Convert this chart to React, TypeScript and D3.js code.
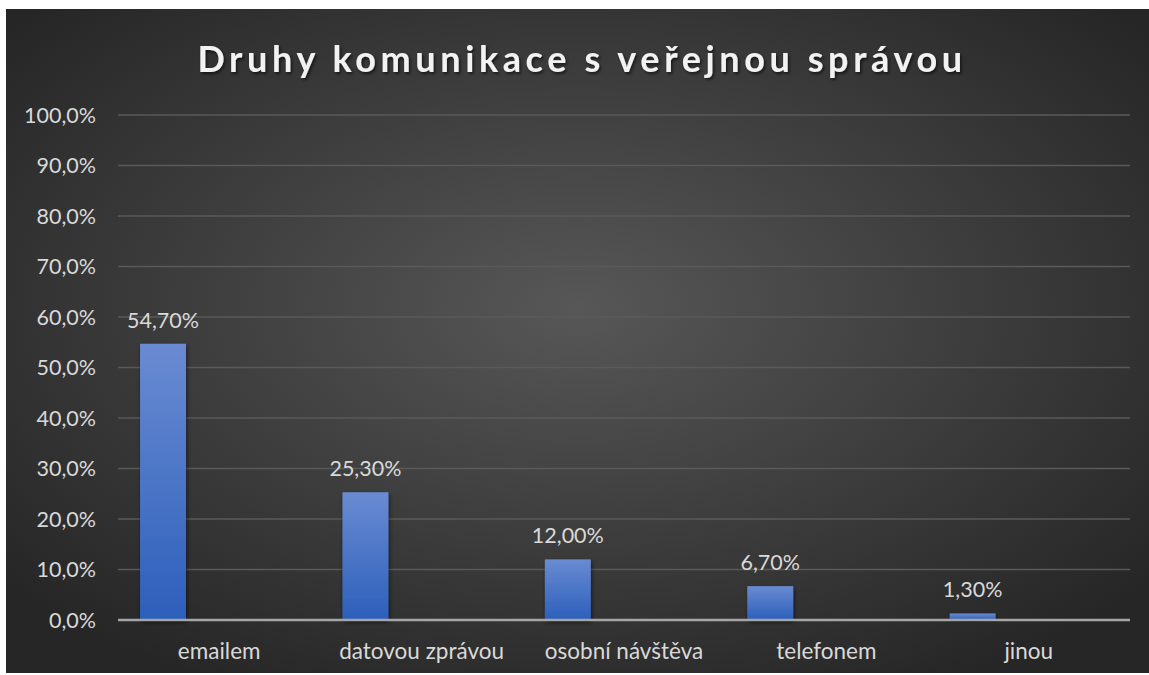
import React, { useRef, useEffect } from "react";
import * as d3 from "d3";

const title = "Druhy komunikace s veřejnou správou";
const categories = ["emailem", "datovou zprávou", "osobní návštěva", "telefonem", "jinou"];
const values = [54.7, 25.3, 12.0, 6.7, 1.3];
const labels = ["54,70%", "25,30%", "12,00%", "6,70%", "1,30%"];
const yTicks = [0, 10, 20, 30, 40, 50, 60, 70, 80, 90, 100];

const W = 1149, H = 675;
const FONT = "Lato, 'Open Sans', sans-serif";

function App() {
    const svgRef = useRef<SVGSVGElement>(null);
    useEffect(() => {
        const svg = d3.select(svgRef.current);
        svg.selectAll("*").remove();

        const defs = svg.append("defs");
        const bg = defs.append("radialGradient").attr("id", "bg")
            .attr("cx", "50%").attr("cy", "45%").attr("r", "65%");
        bg.append("stop").attr("offset", "0%").attr("stop-color", "#575757");
        bg.append("stop").attr("offset", "100%").attr("stop-color", "#262626");
        const bar = defs.append("linearGradient").attr("id", "bar")
            .attr("x1", 0).attr("y1", 0).attr("x2", 0).attr("y2", 1);
        bar.append("stop").attr("offset", "0%").attr("stop-color", "#6a8bd2");
        bar.append("stop").attr("offset", "100%").attr("stop-color", "#2c5fbb");
        const sh = defs.append("filter").attr("id", "sh").attr("x", "-20%").attr("y", "-20%").attr("width", "140%").attr("height", "140%");
        sh.append("feDropShadow").attr("dx", 1).attr("dy", 2).attr("stdDeviation", 2)
            .attr("flood-color", "#000").attr("flood-opacity", 0.55);

        svg.append("rect").attr("x", 6).attr("y", 9).attr("width", W - 6).attr("height", 664)
            .attr("fill", "url(#bg)");

        const margin = { left: 118, right: 1130, top: 115, bottom: 620 };
        const x = d3.scaleBand().domain(categories).range([margin.left, margin.right]).padding(0);
        const y = d3.scaleLinear().domain([0, 100]).range([margin.bottom, margin.top]);

        // gridlines
        svg.append("g").selectAll("line").data(yTicks.filter(t => t > 0)).enter().append("line")
            .attr("x1", margin.left).attr("x2", margin.right)
            .attr("y1", d => y(d)).attr("y2", d => y(d))
            .attr("stroke", "#5a5a5a").attr("stroke-width", 1.5);

        // y axis labels
        svg.append("g").selectAll("text").data(yTicks).enter().append("text")
            .attr("x", 96).attr("y", d => y(d)).attr("dy", "0.36em")
            .attr("text-anchor", "end").attr("fill", "#d9d9d9")
            .style("font-family", FONT).style("font-size", "21.5px")
            .text(d => d.toFixed(1).replace(".", ",") + "%");

        const bw = x.bandwidth();
        const barOffset = bw * 0.109, barW = bw * 0.227;

        svg.append("g").selectAll("rect").data(values).enter().append("rect")
            .attr("x", (d, i) => x(categories[i])! + barOffset)
            .attr("y", d => y(d))
            .attr("width", barW)
            .attr("height", d => y(0) - y(d))
            .attr("fill", "url(#bar)")
            .attr("filter", "url(#sh)");

        // axis line
        svg.append("line").attr("x1", margin.left).attr("x2", margin.right)
            .attr("y1", y(0)).attr("y2", y(0))
            .attr("stroke", "#a6a6a6").attr("stroke-width", 2.5);

        // data labels
        svg.append("g").selectAll("text").data(values).enter().append("text")
            .attr("x", (d, i) => x(categories[i])! + barOffset + barW / 2)
            .attr("y", d => y(d) - 16)
            .attr("text-anchor", "middle").attr("fill", "#d9d9d9")
            .style("font-family", FONT).style("font-size", "21.5px")
            .text((d, i) => labels[i]);

        // category labels
        svg.append("g").selectAll("text").data(categories).enter().append("text")
            .attr("x", d => x(d)! + bw / 2)
            .attr("y", 659)
            .attr("text-anchor", "middle").attr("fill", "#d9d9d9")
            .style("font-family", FONT).style("font-size", "22.5px")
            .text(d => d);

        const ts = defs.append("filter").attr("id", "ts");
        ts.append("feDropShadow").attr("dx", 1.5).attr("dy", 2).attr("stdDeviation", 1.5)
            .attr("flood-color", "#000").attr("flood-opacity", 0.6);

        svg.append("text").attr("x", 582).attr("y", 72)
            .attr("text-anchor", "middle").attr("fill", "#f2f2f2")
            .attr("filter", "url(#ts)")
            .style("font-family", FONT).style("font-size", "36px").style("font-weight", "bold")
            .style("letter-spacing", "4.6px")
            .text(title);

        return () => { svg.selectAll("*").remove(); };
    }, []);
    return (
        <svg ref={svgRef} width={W} height={H}
            style={{ position: "absolute", left: 0, top: 0, display: "block" }} />
    );
}

export default App;
